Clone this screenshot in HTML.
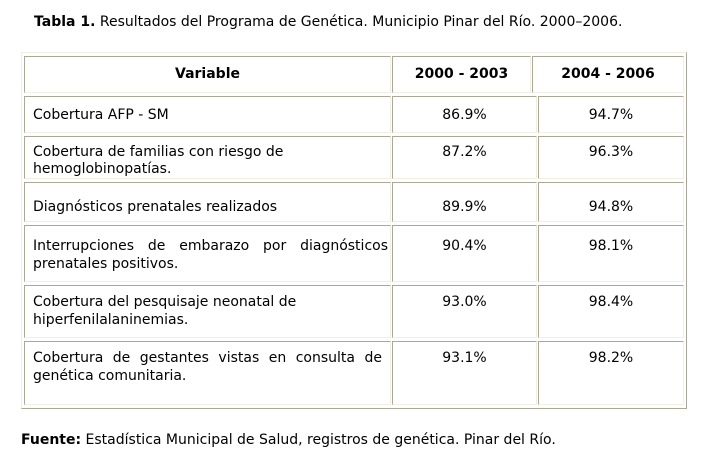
<!DOCTYPE html>
<html>
<head>
<meta charset="utf-8">
<style>
  html, body { margin:0; padding:0; background:#fff; }
  body { width:712px; height:461px; position:relative; overflow:hidden;
         font-family:"DejaVu Sans","Liberation Sans",sans-serif; font-size:14px; color:#000; }
  .t { position:absolute; white-space:nowrap; line-height:16px; height:16px; }
  .b { font-weight:bold; }
  .c { text-align:center; }
  .j { text-align:justify; text-align-last:justify; white-space:normal; overflow:hidden; }
  .cell { position:absolute; box-sizing:border-box;
          border-top:1px solid #ACA899; border-left:1px solid #ACA899;
          border-bottom:1px solid #F1EFE2; border-right:1px solid #F1EFE2; }
  .outer { position:absolute; box-sizing:border-box; left:21px; top:52px; width:666px; height:357px;
           border-top:1px solid #F1EFE2; border-left:1px solid #F1EFE2;
           border-bottom:1px solid #ACA899; border-right:1px solid #ACA899; }
</style>
</head>
<body>

<div class="t" style="left:34px; top:14px;"><span class="b">Tabla 1.</span> Resultados del Programa de Genética. Municipio Pinar del Río. 2000–2006.</div>

<div class="outer"></div>

<!-- header cells -->
<div class="cell" style="left:24px; top:56px; width:367px; height:37px;"></div>
<div class="cell" style="left:392px; top:56px; width:139px; height:37px;"></div>
<div class="cell" style="left:532px; top:56px; width:152px; height:37px;"></div>

<!-- body rows -->
<div class="cell" style="left:24px; top:96px; width:367px; height:37px;"></div>
<div class="cell" style="left:392px; top:96px; width:145px; height:37px;"></div>
<div class="cell" style="left:538px; top:96px; width:146px; height:37px;"></div>

<div class="cell" style="left:24px; top:136px; width:367px; height:43px;"></div>
<div class="cell" style="left:392px; top:136px; width:145px; height:43px;"></div>
<div class="cell" style="left:538px; top:136px; width:146px; height:43px;"></div>

<div class="cell" style="left:24px; top:182px; width:367px; height:40px;"></div>
<div class="cell" style="left:392px; top:182px; width:145px; height:40px;"></div>
<div class="cell" style="left:538px; top:182px; width:146px; height:40px;"></div>

<div class="cell" style="left:24px; top:225px; width:367px; height:57px;"></div>
<div class="cell" style="left:392px; top:225px; width:145px; height:57px;"></div>
<div class="cell" style="left:538px; top:225px; width:146px; height:57px;"></div>

<div class="cell" style="left:24px; top:285px; width:367px; height:53px;"></div>
<div class="cell" style="left:392px; top:285px; width:145px; height:53px;"></div>
<div class="cell" style="left:538px; top:285px; width:146px; height:53px;"></div>

<div class="cell" style="left:24px; top:341px; width:367px; height:64px;"></div>
<div class="cell" style="left:392px; top:341px; width:145px; height:64px;"></div>
<div class="cell" style="left:538px; top:341px; width:146px; height:64px;"></div>

<!-- header text -->
<div class="t b c" style="left:24px; width:367px; top:66px;">Variable</div>
<div class="t b c" style="left:392px; width:139px; top:66px;">2000 - 2003</div>
<div class="t b c" style="left:532px; width:152px; top:66px;">2004 - 2006</div>

<!-- row 1 -->
<div class="t" style="left:33px; top:107px;">Cobertura AFP - SM</div>
<div class="t c" style="left:392px; width:145px; top:107px;">86.9%</div>
<div class="t c" style="left:538px; width:146px; top:107px;">94.7%</div>

<!-- row 2 -->
<div class="t" style="left:33px; top:144px;">Cobertura de familias con riesgo de</div>
<div class="t" style="left:33px; top:161px;">hemoglobinopatías.</div>
<div class="t c" style="left:392px; width:145px; top:144px;">87.2%</div>
<div class="t c" style="left:538px; width:146px; top:144px;">96.3%</div>

<!-- row 3 -->
<div class="t" style="left:33px; top:199px;">Diagnósticos prenatales realizados</div>
<div class="t c" style="left:392px; width:145px; top:199px;">89.9%</div>
<div class="t c" style="left:538px; width:146px; top:199px;">94.8%</div>

<!-- row 4 -->
<div class="t j" style="left:33px; width:355px; top:238px;">Interrupciones de embarazo por diagnósticos</div>
<div class="t" style="left:33px; top:256px;">prenatales positivos.</div>
<div class="t c" style="left:392px; width:145px; top:238px;">90.4%</div>
<div class="t c" style="left:538px; width:146px; top:238px;">98.1%</div>

<!-- row 5 -->
<div class="t" style="left:33px; top:294px;">Cobertura del pesquisaje neonatal de</div>
<div class="t" style="left:33px; top:312px;">hiperfenilalaninemias.</div>
<div class="t c" style="left:392px; width:145px; top:294px;">93.0%</div>
<div class="t c" style="left:538px; width:146px; top:294px;">98.4%</div>

<!-- row 6 -->
<div class="t j" style="left:33px; width:349px; top:350px;">Cobertura de gestantes vistas en consulta de</div>
<div class="t" style="left:33px; top:368px;">genética comunitaria.</div>
<div class="t c" style="left:392px; width:145px; top:350px;">93.1%</div>
<div class="t c" style="left:538px; width:146px; top:350px;">98.2%</div>

<!-- footer -->
<div class="t" style="left:21px; top:432px;"><span class="b">Fuente:</span> Estadística Municipal de Salud, registros de genética. Pinar del Río.</div>

</body>
</html>
